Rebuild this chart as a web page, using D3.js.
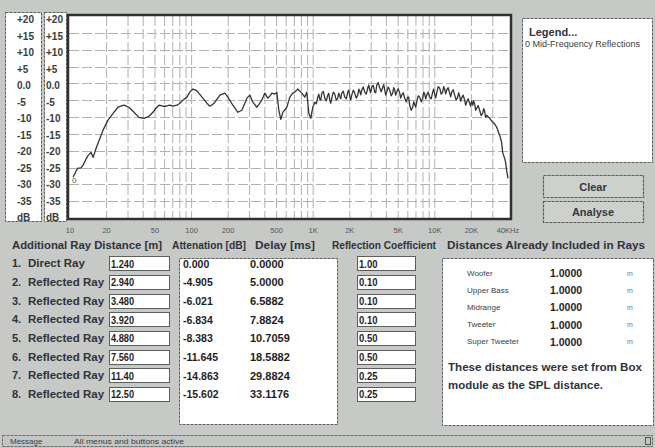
<!DOCTYPE html>
<html>
<head>
<meta charset="utf-8">
<script src="https://cdn.jsdelivr.net/npm/d3@7"></script>
<style>
  body { margin: 0; background: #c6c9c5; }
  svg { display: block; }
  text { font-family: "Liberation Sans", Arial, sans-serif; }
</style>
</head>
<body>
<svg id="app" width="655" height="448"></svg>
<script>
// Frequency response of the summed rays (Hz, dB)
const freqHz = [10.6,11.2,11.6,12.3,12.8,13.5,14.1,14.9,15.5,16.4,
  17.0,18.7,20.5,22.6,24.8,27.8,30.5,33.6,36.9,40.6,
  44.6,48.1,50.9,53.9,58.1,61.5,66.3,70.2,75.7,80.2,
  84.8,91.5,96.8,102.5,108.5,112.7,123.8,133.6,141.4,149.6,
  155.4,170.8,187.8,198.8,218.5,240.2,259,274.2,284.8,301.4,
  318.9,344,364.1,378.1,400.2,423.6,440,456.8,483.5,502.1,
  521.5,541.6,562.5,606.9,642.3,679.8,706,747.3,806,853.1,
  886,920.2,955.6,992.4,1031,
  1060,1091,1112,1133,1155,1177,1211,1246,1282,1318,
  1343,1369,1395,1422,1463,1505,1549,1593,1623,1654,
  1686,1718,1767,1818,1871,1924,1961,1998,2037,2076,
  2136,2197,2260,2325,2370,2415,2461,2508,2580,2655,
  2731,2810,2864,2918,2974,3031,3118,3207,3269,3332,
  3428,3526,3628,3732,3803,3876,3950,4025,4141,4260,
  4383,4508,4595,4683,4772,4863,5003,5147,5246,5346,
  5500,5657,5820,5987,6102,6219,6400,6581,6707,6835,
  6966,7099,7304,7514,7730,7952,8105,8260,8418,8578,
  8825,9078,9340,9609,9793,9980,10170,10365,10663,10970,
  11287,11612,11834,12059,12290,12524,12885,13257,13510,13768,
  14165,14572,14990,15420,15715,16016,16322,16634,17113,17605,
  17941,18284,18811,19353,19724,20100,20484,20876,21275,21682,
  22096,22731,23384,24058,24750,25222,25700,26195,26700,28260,
  29910,31060,32260,34150,35460,36140,37530,38240,38970,40000];
const levelDb = [-27.9,-26.1,-25.2,-25.2,-24.3,-22.6,-21.4,-20.5,-22.0,-19.3,
  -17.8,-13.9,-11.0,-8.9,-7.1,-6.5,-7.1,-8.6,-10.1,-10.4,
  -9.8,-8.6,-7.4,-6.5,-6.8,-6.8,-6.5,-6.8,-6.5,-5.9,
  -5.0,-4.1,-2.6,-1.7,-2.0,-2.6,-4.4,-5.9,-6.8,-6.2,
  -5.6,-3.5,-2.9,-4.1,-6.5,-8.6,-8.0,-5.9,-4.4,-3.5,
  -5.6,-7.1,-5.9,-5.0,-2.9,-4.4,-3.8,-2.9,-3.2,-2.6,
  -8.0,-10.7,-8.6,-7.1,-4.1,-2.9,-2.6,-1.7,-2.9,-4.1,
  -2.6,-8.9,-10.4,-7.1,-5.6,
  -6.1,-4.1,-3.2,-4.7,-5.0,-2.9,-2.4,-4.4,-5.2,-3.5,
  -3.0,-5.0,-5.9,-4.4,-2.6,-3.2,-5.0,-4.4,-2.9,-3.8,
  -4.6,-2.9,-2.3,-4.1,-4.6,-2.6,-2.0,-3.8,-4.9,-3.5,
  -2.0,-2.9,-4.4,-3.5,-1.7,-2.3,-3.4,-2.0,-1.1,-2.6,
  -3.2,-1.4,-0.5,-2.0,-2.8,-1.1,-0.6,-2.6,-2.8,-0.5,
  0.2,-1.4,-2.5,-1.1,-0.4,-2.0,-3.5,-2.6,-1.1,-2.0,
  -3.7,-2.9,-1.3,-2.0,-3.5,-2.6,-1.6,-2.9,-4.4,-3.5,
  -2.8,-4.4,-5.5,-4.1,-4.1,-6.5,-8.0,-7.1,-5.5,-6.2,
  -7.1,-5.6,-3.7,-4.1,-5.5,-4.4,-2.6,-3.2,-4.6,-3.5,
  -2.6,-4.1,-4.6,-2.6,-1.7,-3.2,-4.3,-2.9,-1.0,-1.4,
  -3.2,-2.6,-1.0,-1.7,-3.1,-2.0,-1.3,-2.9,-4.0,-2.6,
  -1.9,-3.5,-5.0,-4.1,-2.8,-3.8,-5.3,-4.4,-3.5,-5.0,
  -6.5,-5.6,-4.6,-5.9,-6.8,-5.3,-6.5,-5.2,-6.2,-8.0,
  -7.4,-6.6,-8.0,-9.6,-8.9,-7.5,-8.3,-10.1,-9.5,-10.4,
  -11.5,-12.1,-13.0,-15.4,-17.5,-20.5,-22.3,-23.5,-25.8,-28.2];

// Axis labels
const freqTickValues = [10,20,50,100,200,500,1000,2000,5000,10000,20000,40000];
const freqTickLabels = ["10","20","50","100","200","500","1K","2K","5K","10K","20K","40KHz"];
const dbTickValues = [20,15,10,5,0,-5,-10,-15,-20,-25,-30,-35,-40];
const dbTickLabels = ["+20","+15","+10","+5","0.0","-5","-10","-15","-20","-25","-30","-35","dB"];

// Ray table
const rayNames = ["Direct Ray","Reflected Ray","Reflected Ray","Reflected Ray","Reflected Ray","Reflected Ray","Reflected Ray","Reflected Ray"];
const rayDistance = ["1.240","2.940","3.480","3.920","4.880","7.560","11.40","12.50"];
const rayAttenuation = ["0.000","-4.905","-6.021","-6.834","-8.383","-11.645","-14.863","-15.602"];
const rayDelay = ["0.0000","5.0000","6.5882","7.8824","10.7059","18.5882","29.8824","33.1176"];
const reflectionCoef = ["1.00","0.10","0.10","0.10","0.50","0.50","0.25","0.25"];

// Driver distances
const driverNames = ["Woofer","Upper Bass","Midrange","Tweeter","Super Tweeter"];
const driverDistance = ["1.0000","1.0000","1.0000","1.0000","1.0000"];

const legendLabels = ["Mid-Frequency Reflections"];

const svg = d3.select("#app");
const ink = "#2e333c";
const boxStroke = "#5c605c";
const mono = "'DejaVu Sans Mono', monospace";

function sunkenBox(x, y, w, h, dash) {
  svg.append("rect").attr("x", x + 0.5).attr("y", y + 0.5).attr("width", w).attr("height", h)
    .attr("fill", "#ffffff").attr("stroke", boxStroke).attr("stroke-width", 1)
    .attr("stroke-dasharray", dash || null);
}

// ---- plot ----
const x = d3.scaleLog().domain([10, 40000]).range([70, 508]);
const y = d3.scaleLinear().domain([20, -40]).range([16, 218]);
const labelY = d3.scaleLinear().domain([20, -40]).range([19.5, 217.5]);

// dB scale columns
[{x0: 5, w: 36, tx: 17}, {x0: 44, w: 22, tx: 46}].forEach(col => {
  sunkenBox(col.x0, 12, col.w, 209, "3,1");
  svg.append("g").selectAll("text").data(dbTickValues).join("text")
    .attr("x", col.tx).attr("y", d => labelY(d))
    .attr("dominant-baseline", "central")
    .attr("font-size", 10).attr("font-weight", "bold").attr("fill", "#3a3d3a")
    .text((d, i) => dbTickLabels[i]);
});

// plot background
svg.append("rect").attr("x", 68).attr("y", 15).attr("width", 443).attr("height", 204).attr("fill", "#ffffff");

// grid
const gridColor = "#aeb3ae";
const vFreqs = [];
[10, 100, 1000, 10000].forEach(dec => {
  for (let k = 1; k <= 9; k++) {
    const f = dec * k;
    if (f > 10 && f < 40000) vFreqs.push(f);
  }
});
svg.append("g").selectAll("line").data(vFreqs).join("line")
  .attr("x1", d => x(d)).attr("x2", d => x(d)).attr("y1", 16).attr("y2", 218)
  .attr("stroke", gridColor).attr("stroke-width", 1).attr("stroke-dasharray", "10,3");
svg.append("g").selectAll("line").data(d3.range(15, -40, -5)).join("line")
  .attr("x1", 69).attr("x2", 510).attr("y1", d => Math.round(y(d)) + 0.5).attr("y2", d => Math.round(y(d)) + 0.5)
  .attr("stroke", gridColor).attr("stroke-width", 1).attr("stroke-dasharray", "10,3");

// response curve
const n = Math.min(freqHz.length, levelDb.length);
const pts = d3.range(n).map(i => [freqHz[i], levelDb[i]]);
svg.append("path").datum(pts)
  .attr("d", d3.line().x(d => x(d[0])).y(d => y(d[1])))
  .attr("fill", "none").attr("stroke", "#333533").attr("stroke-width", 1.3)
  .attr("stroke-linejoin", "round");
svg.append("text").attr("x", x(freqHz[0]) - 1).attr("y", y(levelDb[0]) + 3)
  .attr("dominant-baseline", "central").attr("font-size", 8).attr("fill", "#555")
  .text("0");

// frame
svg.append("rect").attr("x", 68).attr("y", 15).attr("width", 443).attr("height", 204)
  .attr("fill", "none").attr("stroke", "#2f312f").attr("stroke-width", 2.5);

// frequency labels
svg.append("g").selectAll("text").data(freqTickValues).join("text")
  .attr("x", d => x(d)).attr("y", 230).attr("text-anchor", "middle")
  .attr("dominant-baseline", "central").attr("font-size", 7.5).attr("fill", "#555")
  .text((d, i) => freqTickLabels[i]);

// ---- legend ----
sunkenBox(522, 18, 130, 144, "3,1");
svg.append("text").attr("x", 529).attr("y", 32).attr("dominant-baseline", "central")
  .attr("font-size", 11).attr("font-weight", "bold").attr("fill", ink).text("Legend...");
svg.append("g").selectAll("text").data(legendLabels).join("text")
  .attr("x", 525).attr("y", (d, i) => 44 + i * 9).attr("dominant-baseline", "central")
  .attr("font-size", 8.5).attr("fill", "#3a3d42")
  .attr("textLength", 115).attr("lengthAdjust", "spacingAndGlyphs")
  .text((d, i) => i + "  " + d);

// ---- buttons ----
[{label: "Clear", y0: 175, h: 22}, {label: "Analyse", y0: 201, h: 21}].forEach(b => {
  svg.append("rect").attr("x", 543.5).attr("y", b.y0 + 0.5).attr("width", 100).attr("height", b.h)
    .attr("fill", "#cdd0cc").attr("stroke", "#5a5e5a").attr("stroke-width", 1.2).attr("stroke-dasharray", "3,1");
  svg.append("text").attr("x", 593).attr("y", b.y0 + b.h / 2 + 0.5).attr("text-anchor", "middle")
    .attr("dominant-baseline", "central").attr("font-size", 11).attr("font-weight", "bold")
    .attr("fill", "#34383e").text(b.label);
});

// ---- ray table ----
const hdr = [
  {t: "Additional Ray Distance [m]", x: 12, w: 150},
  {t: "Attenation [dB]", x: 172, w: 74},
  {t: "Delay [ms]", x: 255, w: 60},
  {t: "Reflection Coefficient", x: 332, w: 104},
  {t: "Distances Already Included in Rays", x: 447, w: 198}
];
svg.append("g").selectAll("text").data(hdr).join("text")
  .attr("x", d => d.x).attr("y", 245).attr("dominant-baseline", "central")
  .attr("font-size", 11).attr("font-weight", "bold").attr("fill", ink)
  .attr("textLength", d => d.w).attr("lengthAdjust", "spacingAndGlyphs").text(d => d.t);

const rowY = i => 263.3 + i * 18.67;

const rows = svg.append("g");
rows.selectAll("text.num").data(rayNames).join("text")
  .attr("x", 12).attr("y", (d, i) => rowY(i)).attr("dominant-baseline", "central")
  .attr("font-size", 11).attr("font-weight", "bold").attr("fill", ink).text((d, i) => (i + 1) + ".");
rows.selectAll("text.name").data(rayNames).join("text")
  .attr("x", 28).attr("y", (d, i) => rowY(i)).attr("dominant-baseline", "central")
  .attr("font-size", 11.5).attr("font-weight", "bold").attr("fill", ink).text(d => d);

rayDistance.forEach((v, i) => {
  sunkenBox(109, Math.round(rowY(i)) - 7, 60, 14);
  svg.append("text").attr("x", 111).attr("y", rowY(i) + 0.5).attr("dominant-baseline", "central")
    .attr("font-size", 11).attr("font-weight", "bold").attr("font-family", mono)
    .attr("textLength", v.length * 4.6).attr("lengthAdjust", "spacingAndGlyphs")
    .attr("fill", "#1e1e1e").text(v);
});
reflectionCoef.forEach((v, i) => {
  sunkenBox(357, Math.round(rowY(i)) - 7, 58, 14);
  svg.append("text").attr("x", 359).attr("y", rowY(i) + 0.5).attr("dominant-baseline", "central")
    .attr("font-size", 11).attr("font-weight", "bold").attr("font-family", mono)
    .attr("textLength", v.length * 4.6).attr("lengthAdjust", "spacingAndGlyphs")
    .attr("fill", "#1e1e1e").text(v);
});

sunkenBox(179, 258, 158, 166, "3,1");
svg.append("g").selectAll("text").data(rayAttenuation).join("text")
  .attr("x", 183).attr("y", (d, i) => rowY(i) + 0.5).attr("dominant-baseline", "central")
  .attr("font-size", 10.5).attr("font-weight", "bold").attr("font-family", mono)
  .attr("fill", "#1e1e1e").text(d => d);
svg.append("g").selectAll("text").data(rayDelay).join("text")
  .attr("x", 250).attr("y", (d, i) => rowY(i) + 0.5).attr("dominant-baseline", "central")
  .attr("font-size", 11).attr("font-weight", "bold").attr("font-family", mono)
  .attr("fill", "#1e1e1e").text(d => d);

// ---- already included distances ----
sunkenBox(442, 258, 211, 167, "3,1");
const drvY = i => 273 + i * 17.2;
svg.append("g").selectAll("text").data(driverNames).join("text")
  .attr("x", 467).attr("y", (d, i) => drvY(i)).attr("dominant-baseline", "central")
  .attr("font-size", 8).attr("fill", "#3c4048").text(d => d);
svg.append("g").selectAll("text").data(driverDistance).join("text")
  .attr("x", 550).attr("y", (d, i) => drvY(i)).attr("dominant-baseline", "central")
  .attr("font-size", 10.5).attr("font-weight", "bold").attr("font-family", mono)
  .attr("fill", "#1e1e1e").text(d => d);
svg.append("g").selectAll("text").data(driverNames).join("text")
  .attr("x", 627).attr("y", (d, i) => drvY(i)).attr("dominant-baseline", "central")
  .attr("font-size", 7).attr("fill", "#777").text("m");
svg.append("text").attr("x", 448).attr("y", 367).attr("dominant-baseline", "central")
  .attr("font-size", 10.5).attr("font-weight", "bold").attr("fill", ink)
  .attr("textLength", 194).attr("lengthAdjust", "spacingAndGlyphs").text("These distances were set from Box");
svg.append("text").attr("x", 448).attr("y", 385).attr("dominant-baseline", "central")
  .attr("font-size", 10.5).attr("font-weight", "bold").attr("fill", ink)
  .attr("textLength", 155).attr("lengthAdjust", "spacingAndGlyphs").text("module as the SPL distance.");

// ---- status bar ----
svg.append("rect").attr("x", 2.5).attr("y", 435.5).attr("width", 650).attr("height", 11)
  .attr("fill", "#c3c6c2").attr("stroke", "#6a6e6a").attr("stroke-dasharray", "3,1");
svg.append("text").attr("x", 10).attr("y", 441).attr("dominant-baseline", "central")
  .attr("font-size", 8).attr("fill", "#3c4048").text("Message");
svg.append("text").attr("x", 74).attr("y", 441).attr("dominant-baseline", "central")
  .attr("font-size", 8).attr("fill", "#3c4048")
  .attr("textLength", 110).attr("lengthAdjust", "spacingAndGlyphs").text("All menus and buttons active");
svg.append("rect").attr("x", 645.5).attr("y", 437.5).attr("width", 5).attr("height", 7)
  .attr("fill", "none").attr("stroke", "#555");
</script>
</body>
</html>
